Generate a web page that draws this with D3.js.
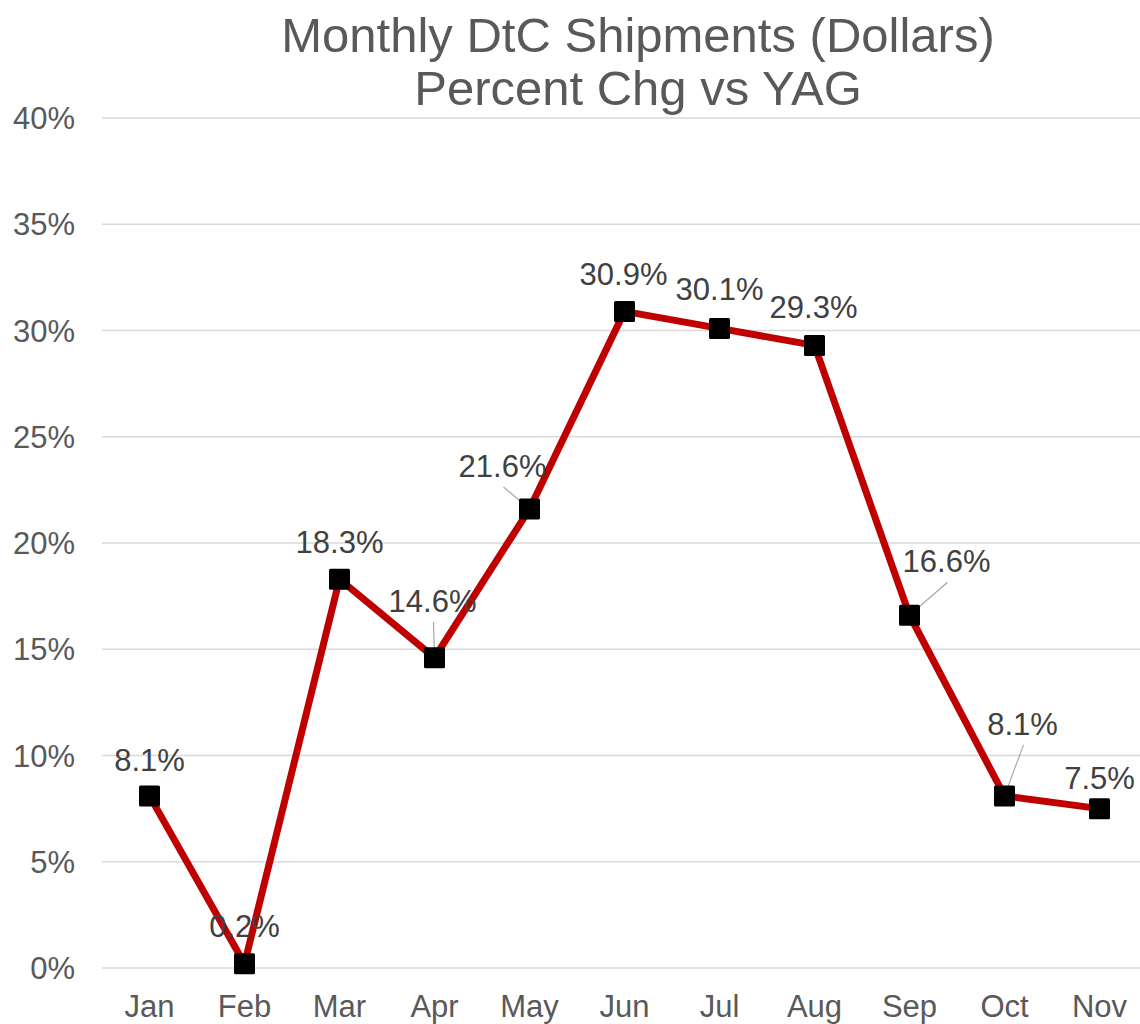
<!DOCTYPE html>
<html>
<head>
<meta charset="utf-8">
<script src="https://cdn.jsdelivr.net/npm/d3@7"></script>
<style>
  body { margin: 0; background: #fff; }
  text { font-family: "Liberation Sans", Arial, sans-serif; }
</style>
</head>
<body>
<svg class="chart" width="1140" height="1024"></svg>
<script>
const months = ["Jan", "Feb", "Mar", "Apr", "May", "Jun", "Jul", "Aug", "Sep", "Oct", "Nov"];
const pctChange = [8.1, 0.2, 18.3, 14.6, 21.6, 30.9, 30.1, 29.3, 16.6, 8.1, 7.5];
const yTicks = [0, 5, 10, 15, 20, 25, 30, 35, 40];
const titleLines = ["Monthly DtC Shipments (Dollars)", "Percent Chg vs YAG"];
// label placement relative to each point: [dx, dy, leaderDx, leaderDy] (leader null if none)
const labelOffsets = [
  [0, -25, null], [0, -27, null], [0, -26, null], [-2, -46, [-1, -36]],
  [-27, -32, [-26, -22]], [-1, -26, null], [0, -28, null], [-1, -27, null],
  [37, -43, [38, -33]], [18, -61, [19, -51]], [0, -20, null]
];

const svg = d3.select(".chart");
const x = d3.scaleBand().domain(months).range([102, 1147]);
const y = d3.scaleLinear().domain([0, 40]).range([968, 118]);

svg.append("g")
  .selectAll("line")
  .data(yTicks)
  .enter()
  .append("line")
  .attr("x1", 102)
  .attr("x2", 1140)
  .attr("y1", (d) => y(d))
  .attr("y2", (d) => y(d))
  .attr("stroke", "#d9d9d9")
  .attr("stroke-width", 1.5);

svg.append("g")
  .selectAll("text")
  .data(yTicks)
  .enter()
  .append("text")
  .attr("x", 75)
  .attr("y", (d) => y(d))
  .attr("dy", "0.36em")
  .attr("text-anchor", "end")
  .attr("font-size", 31)
  .attr("fill", "#595959")
  .text((d) => d + "%");

svg.append("g")
  .selectAll("text")
  .data(months)
  .enter()
  .append("text")
  .attr("x", (d) => x(d) + x.bandwidth() / 2)
  .attr("y", 1017)
  .attr("text-anchor", "middle")
  .attr("font-size", 31)
  .attr("fill", "#595959")
  .text((d) => d);

svg.append("g")
  .selectAll("text")
  .data(titleLines)
  .enter()
  .append("text")
  .attr("x", 638)
  .attr("y", (d, i) => 52 + i * 53)
  .attr("text-anchor", "middle")
  .attr("font-size", 49)
  .attr("fill", "#595959")
  .text((d) => d);

const pts = months.map((m, i) => ({
  m, v: pctChange[i],
  cx: x(m) + x.bandwidth() / 2,
  cy: y(pctChange[i]),
  off: labelOffsets[i]
}));

svg.append("path")
  .datum(pts)
  .attr("fill", "none")
  .attr("stroke", "#c00000")
  .attr("stroke-width", 7)
  .attr("stroke-linejoin", "round")
  .attr("d", d3.line().x((d) => d.cx).y((d) => d.cy));

// leader lines
svg.append("g")
  .selectAll("line")
  .data(pts.filter((d) => d.off[2]))
  .enter()
  .append("line")
  .attr("x1", (d) => d.cx + d.off[2][0])
  .attr("y1", (d) => d.cy + d.off[2][1])
  .attr("x2", (d) => d.cx)
  .attr("y2", (d) => d.cy)
  .attr("stroke", "#a6a6a6")
  .attr("stroke-width", 1.2);

svg.append("g")
  .selectAll("rect")
  .data(pts)
  .enter()
  .append("rect")
  .attr("x", (d) => d.cx - 10.5)
  .attr("y", (d) => d.cy - 10.5)
  .attr("width", 21)
  .attr("height", 21)
  .attr("rx", 1.5)
  .attr("fill", "#000");

svg.append("g")
  .selectAll("text")
  .data(pts)
  .enter()
  .append("text")
  .attr("x", (d) => d.cx + d.off[0])
  .attr("y", (d) => d.cy + d.off[1])
  .attr("text-anchor", "middle")
  .attr("font-size", 31)
  .attr("fill", "#404040")
  .text((d) => d.v.toFixed(1) + "%");
</script>
</body>
</html>
